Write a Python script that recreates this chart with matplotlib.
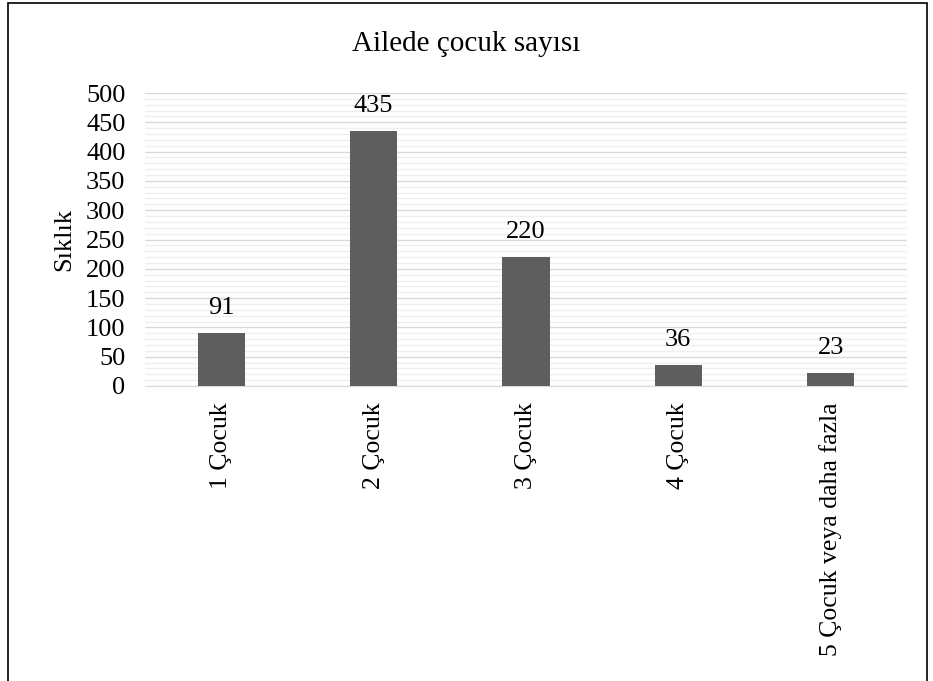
import numpy as np
import matplotlib.pyplot as plt
from matplotlib.patches import Rectangle

categories = ["1 Çocuk", "2 Çocuk", "3 Çocuk", "4 Çocuk", "5 Çocuk veya daha fazla"]
counts = [91, 435, 220, 36, 23]
yticks = [0, 50, 100, 150, 200, 250, 300, 350, 400, 450, 500]

plt.rcParams['font.family'] = ['Liberation Serif', 'DejaVu Serif']

fig = plt.figure(figsize=(9.33, 6.81), dpi=100)
ax = fig.add_axes([0.1554, 0.4332, 0.8166, 0.4302])

x = np.arange(len(categories))
ax.bar(x, counts, width=0.31, color='#5e5e5e', zorder=3)

for xi, v in zip(x, counts):
    ax.annotate(str(v), (xi, v), xytext=(0, 10), textcoords='offset points',
                ha='center', va='bottom', fontsize=19)

ax.set_xlim(-0.5, len(categories) - 0.5)
ax.set_ylim(0, 500)
ax.set_yticks(yticks)
ax.set_yticks(np.arange(0, 501, 10), minor=True)
ax.grid(axis='y', which='minor', color='#efefef', linewidth=1, zorder=0)
ax.grid(axis='y', which='major', color='#d9d9d9', linewidth=1, zorder=1)
ax.tick_params(axis='y', which='both', length=0, labelsize=19, pad=14)
ax.set_xticks(x)
ax.set_xticklabels(categories, rotation=90, fontsize=18.5)
ax.tick_params(axis='x', length=0, pad=12)

for s in ['top', 'right', 'left']:
    ax.spines[s].set_visible(False)
ax.spines['bottom'].set_color('#d9d9d9')

ax.set_ylabel("Sıklık", fontsize=19, labelpad=8)
fig.text(0.5, 0.935, "Ailede çocuk sayısı", ha='center', va='center', fontsize=21)

fig.patches.append(Rectangle((0.009, -0.01), 0.985, 1.005, transform=fig.transFigure,
                             fill=False, edgecolor='black', linewidth=1.2))

fig.savefig("out.png", dpi=100)
